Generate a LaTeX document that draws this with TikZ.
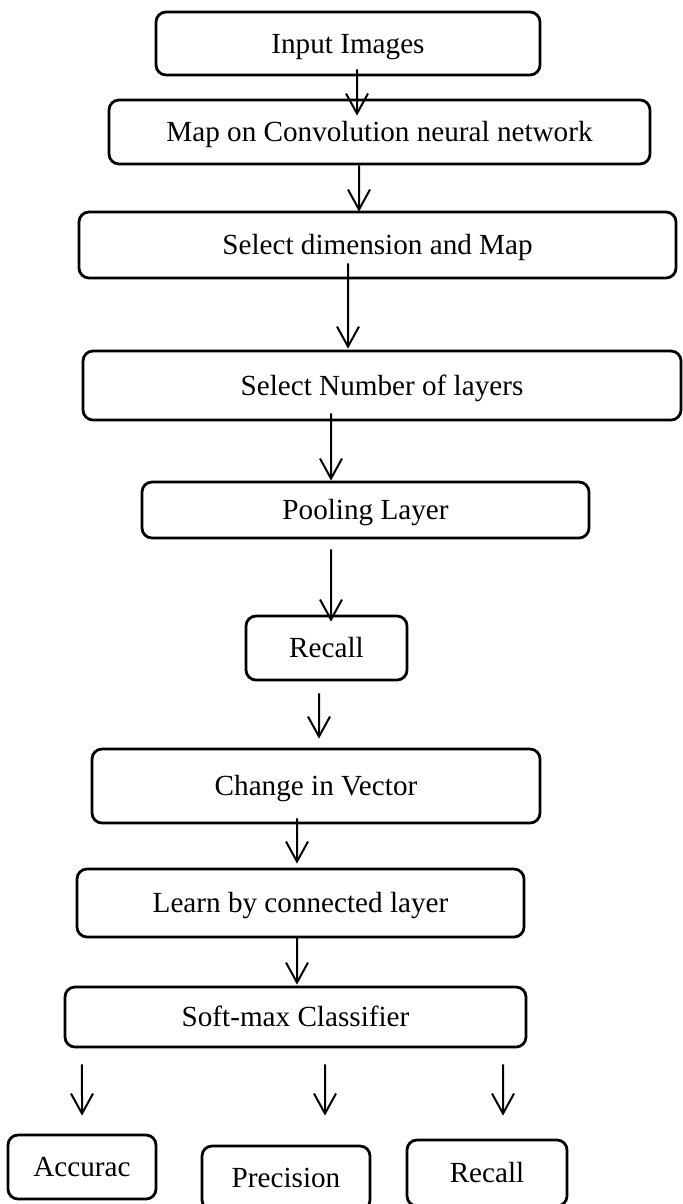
\documentclass[tikz,border=0pt]{standalone}
\usepackage{fontspec}
\setmainfont{Liberation Serif}
\usepackage{xcolor}
\definecolor{Black}{RGB}{0,0,0}
\definecolor{White}{RGB}{255,255,255}
\usetikzlibrary{arrows.meta}

\begin{document}
\begin{tikzpicture}[x=0.2mm, y=-0.2mm,
		stepbox/.style={draw=Black, fill=White, line width=0.55mm, rounded corners=0.2cm, align=center,
			font=\fontsize{16.6}{19}\selectfont, text height=11pt, text depth=0pt, inner sep=0pt},
		flow/.style={draw=Black, line width=0.4mm, -{Straight Barb[length=4mm, width=4.4mm, line width=0.4mm]}}]
		
		\useasboundingbox (0,0) rectangle (682,1204);
		
		% Boxes
		\node[stepbox, minimum width=76.8mm, minimum height=12.6mm] (input)		at (348, 43.5) {Input Images};
		\node[stepbox, minimum width=108.2mm, minimum height=12.8mm] (mapcnn)	at (379.5, 132) {Map on Convolution neural network};
		\node[stepbox, minimum width=119.4mm, minimum height=13.2mm] (seldim)	at (377.5, 245) {Select dimension and Map};
		\node[stepbox, minimum width=119.6mm, minimum height=13.8mm] (sellayers)	at (382, 385.5) {Select Number of layers};
		\node[stepbox, minimum width=89.4mm, minimum height=11.2mm] (pooling)	at (365.5, 510) {Pooling Layer};
		\node[stepbox, minimum width=32.2mm, minimum height=12.8mm] (recall)		at (326.5, 648) {Recall};
		\node[stepbox, minimum width=89.6mm, minimum height=14.8mm] (vector)		at (316, 786) {Change in Vector};
		\node[stepbox, minimum width=89.4mm, minimum height=13.6mm] (learn)		at (300.5, 903) {Learn by connected layer};
		\node[stepbox, minimum width=92.2mm, minimum height=12mm] (softmax)		at (295.5, 1017) {Soft-max Classifier};
		
		% Results
		\node[stepbox, minimum width=29.6mm, minimum height=12.8mm] (accuracy)	at (82, 1167) {Accurac};
		\node[stepbox, minimum width=33.6mm, minimum height=12.8mm] (precision)	at (286, 1178) {Precision};
		\node[stepbox, minimum width=32mm, minimum height=13.2mm] (recallout)	at (487, 1173) {Recall};
		
		% Arrows
		\draw[flow] ([xshift=1.8mm, yshift=1.4mm]input.south) -- ([xshift=-4.5mm, yshift=-3.4mm]mapcnn.north);
		\draw[flow] ([xshift=-4.1mm]mapcnn.south) -- ([xshift=-3.7mm, yshift=-0.2mm]seldim.north);
		\draw[flow] ([xshift=-5.9mm, yshift=3.2mm]seldim.south) -- ([xshift=-6.8mm, yshift=0.2mm]sellayers.north);
		\draw[flow] ([xshift=-10.2mm, yshift=1.6mm]sellayers.south) -- ([xshift=-6.9mm]pooling.north);
		\draw[flow] ([xshift=-6.9mm, yshift=-2mm]pooling.south) -- ([xshift=0.9mm, yshift=-1.4mm]recall.north);
		\draw[flow] ([xshift=-1.5mm, yshift=-2.4mm]recall.south) -- ([xshift=0.6mm, yshift=1.8mm]vector.north);
		\draw[flow] ([xshift=-3.8mm, yshift=1.2mm]vector.south) -- ([xshift=-0.7mm, yshift=0.8mm]learn.north);
		\draw[flow] ([xshift=-0.7mm, yshift=0.4mm]learn.south) -- ([xshift=0.3mm, yshift=0.2mm]softmax.north);
		
		\draw[flow] ([xshift=-42.7mm, yshift=-3.2mm]softmax.south) -- ([yshift=3.6mm]accuracy.north);
		\draw[flow] ([xshift=5.9mm, yshift=-3.2mm]softmax.south) -- ([xshift=7.8mm, yshift=5.8mm]precision.north);
		\draw[flow] ([xshift=41.5mm, yshift=-3.2mm]softmax.south) -- ([xshift=3.2mm, yshift=4.6mm]recallout.north);
		
	\end{tikzpicture}
\end{document}
